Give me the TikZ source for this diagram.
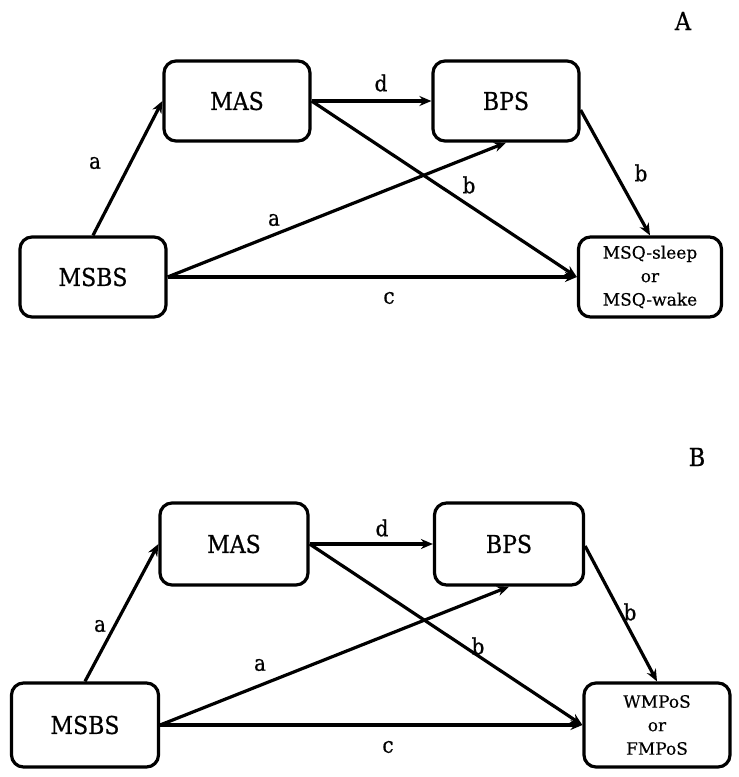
\documentclass[tikz,border=0pt]{standalone}
\usepackage{fontspec}
\setmainfont{DejaVu Serif}
\newfontfamily\condserif[FakeBold=0.7]{DejaVu Serif Condensed}
\newfontfamily\outserif[FakeBold=0.4]{DejaVu Serif}
\usepackage{tikz}
\usetikzlibrary{arrows.meta}
\newcommand{\fsBox}{\condserif\fontsize{24.5}{28}\selectfont}
\newcommand{\fsOut}{\outserif\fontsize{17}{23.5}\selectfont}
\newcommand{\fsPath}{\condserif\fontsize{22}{26}\selectfont}
\newcommand{\fsPanel}{\condserif\fontsize{25}{28}\selectfont}

\begin{document}
\begin{tikzpicture}[x=1pt, y=-1pt,
  box/.style={draw, line width=3.2pt, rounded corners=12pt, fill=white, inner sep=0pt, font=\fsBox},
  outbox/.style={box, font=\fsOut, align=center},
  arr/.style={line width=3.2pt, -{Stealth[length=12pt, width=10pt]}},
  lab/.style={font=\fsPath, inner sep=0pt}]
  \useasboundingbox (0,0) rectangle (739,777);

  % panel A
  \node[font=\fsPanel] (tagA) at (683,21) {A};
  \node[box, minimum width=146, minimum height=80] (masA)  at (237,101) {MAS};
  \node[box, minimum width=146, minimum height=80] (bpsA)  at (506,101) {BPS};
  \node[box, minimum width=146, minimum height=80] (msbsA) at (93,277)  {MSBS};
  \node[outbox, minimum width=143, minimum height=80] (msqA) at (650,277) {MSQ-sleep\\or\\MSQ-wake};

  \draw[arr] (msbsA.north) -- (masA.west);
  \draw[arr] (msbsA.east) -- (bpsA.south);
  \draw[arr] (msbsA.east) -- (msqA.west);
  \draw[arr] (masA.east) -- (bpsA.west);
  \draw[arr] (masA.east) -- (msqA.west);
  \draw[arr] ([yshift=-9pt]bpsA.east) -- (msqA.north);

  \node[lab] (aA1) at (95,163)  {a};
  \node[lab] (aA2) at (274,220) {a};
  \node[lab] (dA)  at (381,83)  {d};
  \node[lab] (bA1) at (469,185) {b};
  \node[lab] (bA2) at (641,173) {b};
  \node[lab] (cA)  at (389,298) {c};

  % panel B
  \node[font=\fsPanel] (tagB) at (697,457) {B};
  \node[box, minimum width=148, minimum height=82] (masB)  at (234,544) {MAS};
  \node[box, minimum width=149, minimum height=82] (bpsB)  at (509,544) {BPS};
  \node[box, minimum width=147, minimum height=84] (msbsB) at (85,725)  {MSBS};
  \node[outbox, minimum width=146, minimum height=84] (wmpB) at (657,725) {WMPoS\\or\\FMPoS};

  \draw[arr] (msbsB.north) -- (masB.west);
  \draw[arr] (msbsB.east) -- (bpsB.south);
  \draw[arr] (msbsB.east) -- (wmpB.west);
  \draw[arr] (masB.east) -- (bpsB.west);
  \draw[arr] (masB.east) -- (wmpB.west);
  \draw[arr] ([yshift=-2pt]bpsB.east) -- (wmpB.north);

  \node[lab] (aB1) at (100,626) {a};
  \node[lab] (aB2) at (260,665) {a};
  \node[lab] (dB)  at (382,528) {d};
  \node[lab] (bB1) at (478,646) {b};
  \node[lab] (bB2) at (630,612) {b};
  \node[lab] (cB)  at (388,747) {c};
\end{tikzpicture}
\end{document}
